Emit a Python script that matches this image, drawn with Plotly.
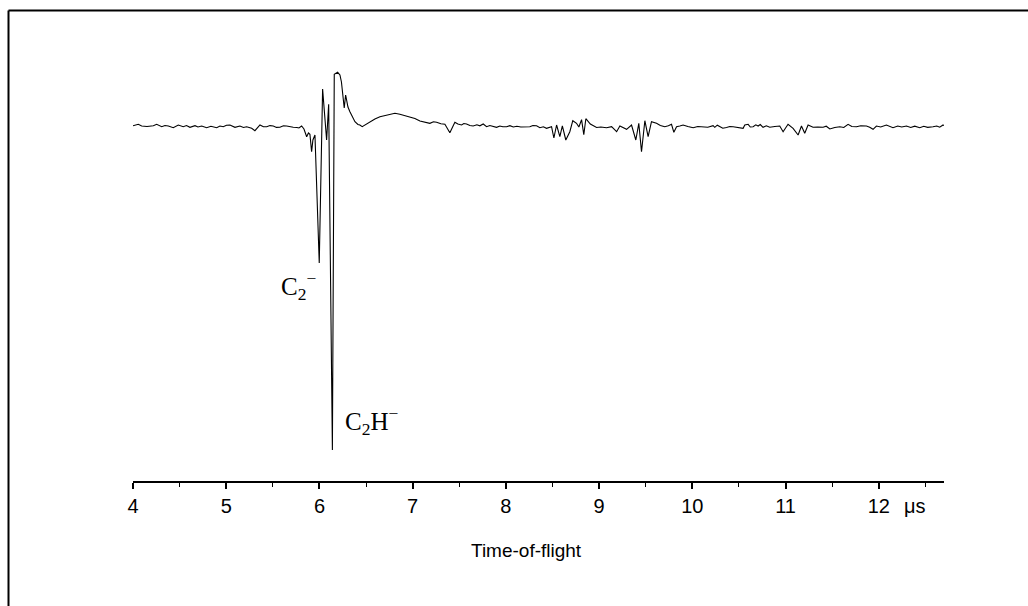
import plotly.graph_objects as go

# Time-of-flight axis (microseconds) and detector signal (arbitrary units, baseline = 0)
tof_us = [
    4.000, 4.057, 4.093, 4.150, 4.218, 4.254, 4.308, 4.343, 4.379, 4.432,
    4.486, 4.539, 4.574, 4.611, 4.665, 4.697, 4.737, 4.790, 4.836, 4.898,
    4.933, 4.968, 5.003, 5.040, 5.094, 5.147, 5.185, 5.219, 5.273, 5.308,
    5.362, 5.399, 5.434, 5.469, 5.505, 5.539, 5.576, 5.614, 5.648, 5.684,
    5.719, 5.759, 5.780, 5.809, 5.834, 5.863, 5.882, 5.898, 5.916, 5.930,
    5.952, 5.998, 6.034, 6.077, 6.099, 6.139, 6.159, 6.195, 6.220, 6.236,
    6.255, 6.266, 6.281, 6.306, 6.327, 6.354, 6.381, 6.413, 6.434, 6.459,
    6.499, 6.542, 6.595, 6.649, 6.724, 6.810, 6.863, 6.917, 6.971, 7.024,
    7.078, 7.131, 7.185, 7.223, 7.257, 7.303, 7.346, 7.399, 7.453, 7.485,
    7.525, 7.549, 7.578, 7.614, 7.649, 7.689, 7.721, 7.757, 7.793, 7.828,
    7.861, 7.900, 7.936, 7.968, 8.008, 8.043, 8.080, 8.118, 8.161, 8.222,
    8.257, 8.290, 8.329, 8.365, 8.402, 8.436, 8.472, 8.490, 8.515, 8.544,
    8.579, 8.606, 8.643, 8.686, 8.718, 8.758, 8.783, 8.812, 8.836, 8.858,
    8.906, 8.938, 8.973, 9.019, 9.080, 9.134, 9.188, 9.223, 9.260, 9.295,
    9.348, 9.394, 9.426, 9.455, 9.491, 9.526, 9.562, 9.616, 9.657, 9.705,
    9.743, 9.777, 9.802, 9.831, 9.866, 9.901, 9.952, 10.009, 10.059, 10.116,
    10.166, 10.223, 10.241, 10.268, 10.295, 10.327, 10.367, 10.402, 10.438, 10.488,
    10.545, 10.563, 10.599, 10.622, 10.652, 10.681, 10.706, 10.729, 10.759, 10.794,
    10.831, 10.885, 10.938, 10.974, 11.027, 11.081, 11.135, 11.171, 11.206, 11.242,
    11.295, 11.346, 11.403, 11.437, 11.475, 11.528, 11.582, 11.625, 11.671, 11.711,
    11.761, 11.807, 11.868, 11.903, 11.939, 11.975, 12.021, 12.082, 12.118, 12.153,
    12.204, 12.247, 12.297, 12.343, 12.386, 12.440, 12.483, 12.525, 12.582, 12.622,
    12.654, 12.690, 12.700,
]

signal = [
    0.13, 0.27, 0.10, 0.05, 0.13, 0.27, 0.03, 0.15, 0.10, -0.07,
    0.20, 0.03, 0.15, -0.03, 0.13, 0.00, 0.10, -0.07, 0.07, -0.07,
    0.10, 0.03, 0.18, 0.20, -0.03, 0.10, -0.05, 0.03, -0.13, -0.37,
    0.20, 0.02, 0.03, 0.14, 0.10, -0.04, -0.03, 0.12, 0.10, 0.00,
    -0.03, -0.05, -0.10, 0.10, -0.20, -0.97, -0.60, -0.73, -2.47, -1.30,
    -0.80, -13.60, 3.80, -1.30, 2.27, -32.30, 5.27, 5.47, 5.20, 4.50,
    2.60, 1.90, 3.20, 2.00, 1.53, 1.00, 0.53, 0.25, 0.20, 0.03,
    0.25, 0.53, 0.80, 1.03, 1.20, 1.37, 1.27, 1.15, 1.03, 0.85,
    0.60, 0.50, 0.37, 0.52, 0.47, 0.32, 0.27, -0.57, 0.47, 0.30,
    0.20, 0.35, 0.30, 0.15, 0.10, 0.22, 0.12, 0.30, 0.03, 0.15,
    0.05, -0.03, 0.10, 0.02, 0.03, 0.13, 0.00, 0.08, 0.00, -0.03,
    0.02, 0.15, 0.13, -0.07, 0.02, -0.13, 0.03, 0.03, -1.10, 0.20,
    -0.97, 0.12, -1.30, -0.47, 0.63, 0.37, 0.00, 0.73, -0.77, 0.83,
    0.30, 0.15, -0.05, 0.00, -0.07, 0.03, -0.47, 0.10, -0.08, -0.23,
    0.20, -1.30, 0.37, -2.47, 0.63, -0.97, 0.53, 0.37, 0.15, 0.03,
    0.12, 0.27, -0.53, 0.03, 0.10, 0.20, 0.05, -0.07, 0.05, 0.03,
    -0.03, 0.13, -0.03, 0.18, 0.05, -0.12, -0.05, 0.05, 0.03, -0.02,
    -0.13, 0.20, 0.27, 0.00, 0.03, 0.22, 0.10, 0.25, -0.03, 0.12,
    -0.03, 0.05, 0.10, -0.47, 0.27, -0.13, -0.80, 0.10, -0.63, 0.20,
    -0.03, 0.00, -0.03, 0.08, -0.20, -0.05, 0.03, -0.05, 0.27, 0.05,
    0.03, 0.12, 0.10, -0.02, -0.23, 0.10, 0.00, 0.20, 0.02, -0.07,
    0.10, 0.00, 0.10, -0.05, 0.08, -0.07, 0.07, -0.04, 0.03, 0.10,
    -0.02, 0.20, 0.15,
]

tick_values = [4, 5, 6, 7, 8, 9, 10, 11, 12]
tick_labels = ["4", "5", "6", "7", "8", "9", "10", "11", "12"]

# Peak assignments: (label, tof position, signal position)
peak_labels = [
    ("C<sub>2</sub><sup>\u2212</sup>", 5.78, -15.9),
    ("C<sub>2</sub>H<sup>\u2212</sup>", 6.56, -29.4),
]

W, H = 1028, 606
M_L, M_R, M_T, M_B = 133, 84, 60, 125
X_RANGE = [4.0, 12.70]
Y_RANGE = [-35.4, 6.7]

fig = go.Figure()
fig.add_trace(go.Scatter(
    x=tof_us, y=signal, mode="lines",
    line=dict(color="black", width=1.1),
    hoverinfo="skip", showlegend=False,
))

serif = "Liberation Serif, Times New Roman, serif"
sans = "Liberation Sans, Arial, sans-serif"

for text, xv, yv in peak_labels:
    fig.add_annotation(x=xv, y=yv, xref="x", yref="y", text=text, showarrow=False,
                       font=dict(family=serif, size=25, color="black"),
                       xanchor="center", yanchor="middle")

# unit label next to the last tick label
fig.add_annotation(x=12.39, y=0, xref="x", yref="paper", text="\u03bcs", showarrow=False,
                   font=dict(family=sans, size=20, color="black"),
                   xanchor="center", yanchor="middle", yshift=-25)

# axis title
fig.add_annotation(x=8.225, y=0, xref="x", yref="paper", text="Time-of-flight",
                   showarrow=False, font=dict(family=sans, size=19, color="black"),
                   xanchor="center", yanchor="middle", yshift=-69)

# outer frame (left and top edges visible in the canvas)
pw = W - M_L - M_R
ph = H - M_T - M_B
fx0 = (8.5 - M_L) / pw
fx1 = (W + 20 - M_L) / pw
fy_top = (H - M_B - 10.5) / ph
fy_bot = (H - M_B - (H + 20)) / ph
fig.add_shape(type="line", xref="paper", yref="paper", x0=fx0, x1=fx0, y0=fy_bot, y1=fy_top,
              line=dict(color="black", width=2))
fig.add_shape(type="line", xref="paper", yref="paper", x0=fx0, x1=fx1, y0=fy_top, y1=fy_top,
              line=dict(color="black", width=2))

fig.update_layout(
    width=W, height=H,
    margin=dict(l=M_L, r=M_R, t=M_T, b=M_B),
    paper_bgcolor="white", plot_bgcolor="white",
    xaxis=dict(
        range=X_RANGE, showgrid=False, zeroline=False,
        showline=True, linecolor="black", linewidth=1.5,
        ticks="outside", ticklen=6, tickwidth=1.5, tickcolor="black",
        tickvals=tick_values, ticktext=tick_labels,
        tickfont=dict(family=sans, size=20, color="black"),
        minor=dict(dtick=0.5, tick0=4, ticks="outside", ticklen=4, tickwidth=1.2,
                   tickcolor="black", showgrid=False),
    ),
    yaxis=dict(range=Y_RANGE, visible=False, showgrid=False, zeroline=False),
)

fig.write_html("out.html")
